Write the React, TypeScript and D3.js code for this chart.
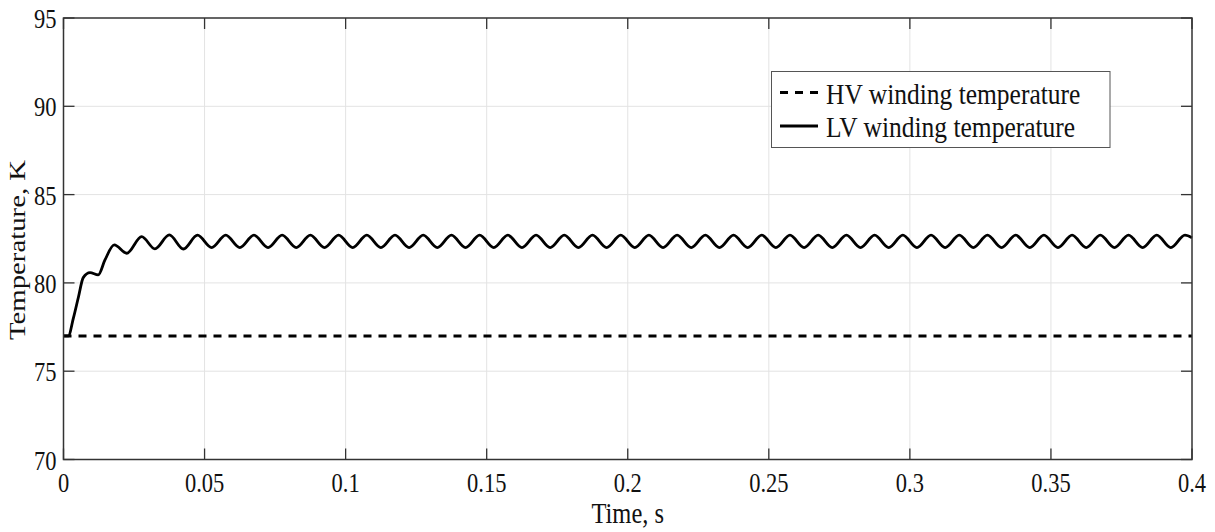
import * as d3 from "d3";
import { useEffect, useRef } from "react";

// x ticks (s) and y ticks (K)
const timeTicks = [0, 0.05, 0.1, 0.15, 0.2, 0.25, 0.3, 0.35, 0.4];
const tempTicks = [70, 75, 80, 85, 90, 95];

// HV winding temperature - flat line
const hvTime = [0, 0.4];
const hvTemp = [77, 77];

// LV winding temperature - start-up, then peaks / troughs
const lvTime = [
  0, 0.0017, 0.0035, 0.0053, 0.007, 0.0094, 0.0123, 0.0147, 0.018, 0.0224,
  0.0277, 0.0324, 0.0375, 0.0425,
  0.0475, 0.0525, 0.0575, 0.0625, 0.0675, 0.0725, 0.0775, 0.0825, 0.0875, 0.0925, 0.0975,
  0.1025, 0.1075, 0.1125, 0.1175, 0.1225, 0.1275, 0.1325, 0.1375, 0.1425, 0.1475,
  0.1525, 0.1575, 0.1625, 0.1675, 0.1725, 0.1775, 0.1825, 0.1875, 0.1925, 0.1975,
  0.2025, 0.2075, 0.2125, 0.2175, 0.2225, 0.2275, 0.2325, 0.2375, 0.2425, 0.2475,
  0.2525, 0.2575, 0.2625, 0.2675, 0.2725, 0.2775, 0.2825, 0.2875, 0.2925, 0.2975,
  0.3025, 0.3075, 0.3125, 0.3175, 0.3225, 0.3275, 0.3325, 0.3375, 0.3425, 0.3475,
  0.3525, 0.3575, 0.3625, 0.3675, 0.3725, 0.3775, 0.3825, 0.3875, 0.3925, 0.3975,
  0.4,
];
const lvTemp = [
  77, 77, 78.0, 79.2, 80.3, 80.58, 80.45, 81.3, 82.15, 81.68,
  82.62, 81.93, 82.72, 81.92,
  82.7, 82.0, 82.7, 82.0, 82.7, 82.0, 82.7, 82.0, 82.7, 82.0, 82.7,
  82.0, 82.7, 82.0, 82.7, 82.0, 82.7, 82.0, 82.7, 82.0, 82.7,
  82.0, 82.7, 82.0, 82.7, 82.0, 82.7, 82.0, 82.7, 82.0, 82.7,
  82.0, 82.7, 82.0, 82.7, 82.0, 82.7, 82.0, 82.7, 82.0, 82.7,
  82.0, 82.7, 82.0, 82.7, 82.0, 82.7, 82.0, 82.7, 82.0, 82.7,
  82.0, 82.7, 82.0, 82.7, 82.0, 82.7, 82.0, 82.7, 82.0, 82.7,
  82.0, 82.7, 82.0, 82.7, 82.0, 82.7, 82.0, 82.7, 82.0, 82.7,
  82.55,
];

const legendLabels = ["HV winding temperature", "LV winding temperature"];

const width = 1215;
const height = 532;
const left = 63.5;
const right = 1192;
const top = 18;
const bottom = 459.5;
const font = "'Liberation Serif', 'Times New Roman', serif";
const stretch = 1.2;

const App = () => {
  const svgRef = useRef<SVGSVGElement>(null);

  useEffect(() => {
    const svg = d3.select(svgRef.current);
    svg.selectAll("*").remove();

    const x = d3.scaleLinear().domain([0, 0.4]).range([left, right]);
    const y = d3.scaleLinear().domain([70, 95]).range([bottom, top]);

    svg.append("rect").attr("width", width).attr("height", height).attr("fill", "#fff");

    // grid
    const grid = svg.append("g").attr("stroke", "#e3e3e3").attr("stroke-width", 1);
    grid
      .selectAll(".gx")
      .data(timeTicks.slice(1, -1))
      .join("line")
      .attr("x1", (d) => x(d))
      .attr("x2", (d) => x(d))
      .attr("y1", top)
      .attr("y2", bottom);
    grid
      .selectAll(".gy")
      .data(tempTicks.slice(1, -1))
      .join("line")
      .attr("x1", left)
      .attr("x2", right)
      .attr("y1", (d) => y(d))
      .attr("y2", (d) => y(d));

    // tick marks (inward, on all four sides)
    const ticks = svg.append("g").attr("stroke", "#333").attr("stroke-width", 1.3);
    tempTicks.forEach((t) => {
      ticks.append("line").attr("x1", left).attr("x2", left + 11).attr("y1", y(t)).attr("y2", y(t));
      ticks.append("line").attr("x1", right).attr("x2", right - 11).attr("y1", y(t)).attr("y2", y(t));
    });
    timeTicks.forEach((t) => {
      ticks.append("line").attr("x1", x(t)).attr("x2", x(t)).attr("y1", bottom).attr("y2", bottom - 11);
      ticks.append("line").attr("x1", x(t)).attr("x2", x(t)).attr("y1", top).attr("y2", top + 11);
    });

    // HV line
    const line = d3
      .line<number>()
      .x((d, i) => x(hvTime[i]))
      .y((d) => y(d));
    svg
      .append("path")
      .attr("d", line(hvTemp))
      .attr("fill", "none")
      .attr("stroke", "#000")
      .attr("stroke-width", 3)
      .attr("stroke-dasharray", "8,7");

    // LV line
    const lvLine = d3
      .line<number>()
      .x((d, i) => x(lvTime[i]))
      .y((d) => y(d))
      .curve(d3.curveMonotoneX);
    svg
      .append("path")
      .attr("d", lvLine(lvTemp))
      .attr("fill", "none")
      .attr("stroke", "#000")
      .attr("stroke-width", 2.8)
      .attr("stroke-linejoin", "round");

    // frame
    svg
      .append("rect")
      .attr("x", left)
      .attr("y", top)
      .attr("width", right - left)
      .attr("height", bottom - top)
      .attr("fill", "none")
      .attr("stroke", "#333")
      .attr("stroke-width", 1.5);

    // tick labels
    svg
      .selectAll(".ylab")
      .data(tempTicks)
      .join("text")
      .attr("transform", (d) => `translate(${left - 7}, ${y(d) + 10}) scale(1, ${stretch})`)
      .attr("text-anchor", "end")
      .attr("font-family", font)
      .attr("font-size", 22.5)
      .attr("fill", "#111")
      .text((d) => String(d));
    svg
      .selectAll(".xlab")
      .data(timeTicks)
      .join("text")
      .attr("transform", (d) => `translate(${x(d)}, 491.5) scale(1, ${stretch})`)
      .attr("text-anchor", "middle")
      .attr("font-family", font)
      .attr("font-size", 22.5)
      .attr("fill", "#111")
      .text((d) => String(d));

    // axis titles
    svg
      .append("text")
      .attr("transform", `translate(${(left + right) / 2}, 523) scale(1, ${stretch})`)
      .attr("text-anchor", "middle")
      .attr("font-family", font)
      .attr("font-size", 24.5)
      .attr("fill", "#111")
      .text("Time, s");
    svg
      .append("text")
      .attr("transform", `translate(25, 250) rotate(-90) scale(${stretch}, 1)`)
      .attr("text-anchor", "middle")
      .attr("font-family", font)
      .attr("font-size", 24)
      .attr("fill", "#111")
      .text("Temperature, K");

    // legend
    const lg = svg.append("g");
    lg.append("rect")
      .attr("x", 771.5)
      .attr("y", 71.5)
      .attr("width", 338.5)
      .attr("height", 76)
      .attr("fill", "#fff")
      .attr("stroke", "#555")
      .attr("stroke-width", 1);
    const rows = [
      { dash: "8,7", lineY: 92.5, base: 103.5 },
      { dash: null, lineY: 126, base: 137 },
    ];
    rows.forEach((r, i) => {
      lg.append("line")
        .attr("x1", 780)
        .attr("x2", 818)
        .attr("y1", r.lineY)
        .attr("y2", r.lineY)
        .attr("stroke", "#000")
        .attr("stroke-width", 3)
        .attr("stroke-dasharray", r.dash);
      lg.append("text")
        .attr("transform", `translate(826, ${r.base}) scale(1, 1.14)`)
        .attr("font-family", font)
        .attr("font-size", 25.5)
        .attr("fill", "#111")
        .text(legendLabels[i]);
    });
  }, []);

  return (
    <svg
      ref={svgRef}
      width={width}
      height={height}
      style={{ position: "absolute", left: 0, top: 0 }}
    ></svg>
  );
};

export default App;
